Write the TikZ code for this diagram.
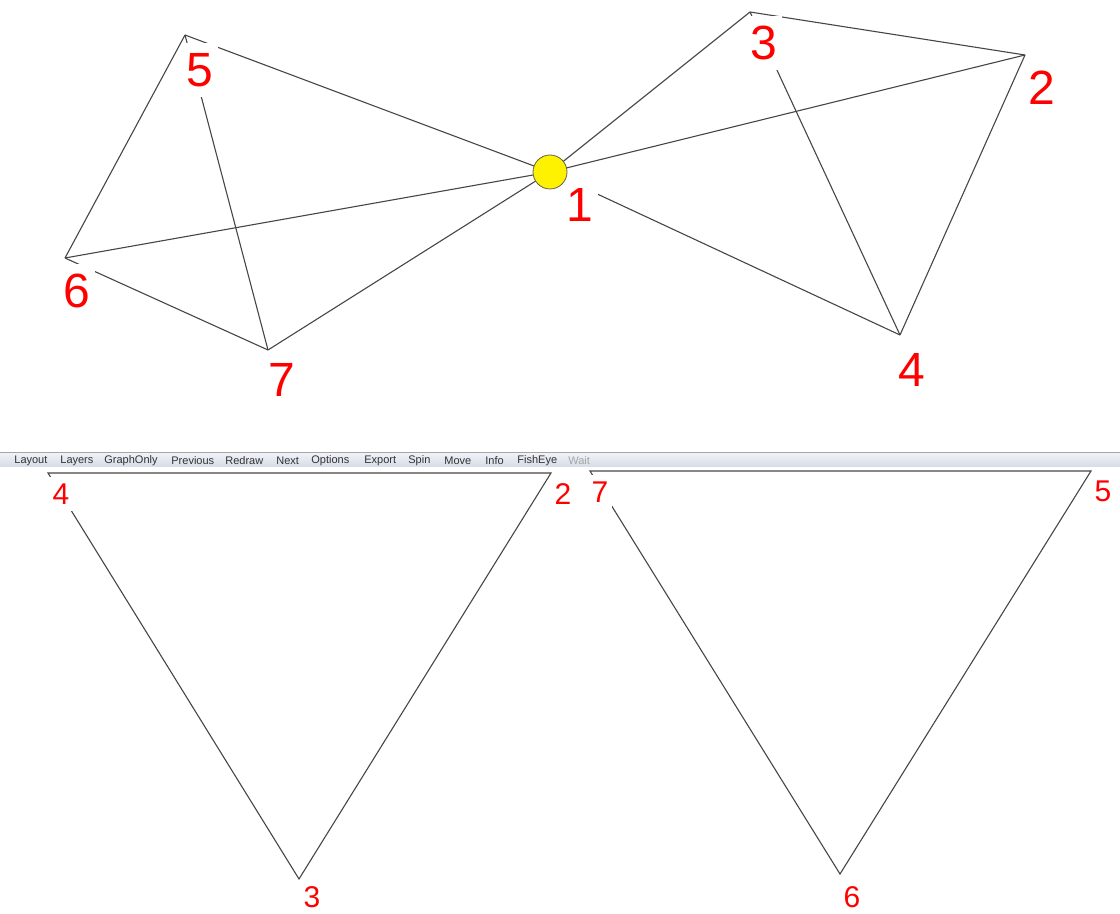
\documentclass[tikz,border=0pt]{standalone}
\usepackage{fontspec}
\setmainfont{Liberation Sans}
\definecolor{edgegray}{RGB}{70,70,70}
\definecolor{barlight}{RGB}{240,242,248}
\definecolor{bardark}{RGB}{214,219,231}
\definecolor{menutext}{RGB}{50,50,50}
\tikzset{
  edge/.style={draw=edgegray, line width=0.55pt},
  biglab/.style={fill=white, text=red, inner sep=0pt, minimum width=18pt, minimum height=27pt, font=\fontsize{24}{24}\selectfont},
  smalllab/.style={fill=white, text=red, inner sep=0pt, minimum width=12pt, minimum height=17pt, font=\fontsize{15}{15}\selectfont},
  menuitem/.style={anchor=west, inner sep=0pt, text=menutext, font=\fontsize{5.5}{6}\selectfont}
}
\begin{document}
\begin{tikzpicture}[x=0.5pt, y=-0.5pt]
	\useasboundingbox (0,0) rectangle (1120,914);
	% menu bar
	\shade[top color=barlight, bottom color=bardark] (0,453) rectangle (1120,467);
	\draw[gray!70, line width=0.5pt] (0,453) -- (1120,453);
	\foreach \x/\t in {14/Layout, 60/Layers, 104/GraphOnly, 171/Previous, 225/Redraw, 276/Next, 311/Options, 364/Export, 408/Spin, 444/Move, 485/Info, 517/FishEye}
		\node[menuitem] (m\t) at (\x,460.5) {\t};
	\node[menuitem, text=black!35] (mWait) at (568,460.5) {Wait};
	% upper graph
	\coordinate (v1) at (550,172);
	\coordinate (v2) at (1025,55);
	\coordinate (v3) at (750,12);
	\coordinate (v4) at (900,335);
	\coordinate (v5) at (185,35);
	\coordinate (v6) at (65,258);
	\coordinate (v7) at (268,350);
	\foreach \a/\b in {v1/v2, v1/v3, v1/v4, v1/v5, v1/v6, v1/v7, v3/v2, v2/v4, v3/v4, v5/v6, v5/v7, v6/v7}
		\draw[edge] (\a) -- (\b);
	\node[biglab] (l1) at (580,205) {1};
	\node[biglab] (l2) at (1042,88) {2};
	\node[biglab] (l3) at (764,43) {3};
	\node[biglab] (l4) at (912,370) {4};
	\node[biglab] (l5) at (200,70) {5};
	\node[biglab] (l6) at (77,291) {6};
	\node[biglab] (l7) at (282,380) {7};
	\node[circle, fill=yellow, draw=black!70!yellow, line width=0.4pt, minimum size=17pt, inner sep=0pt] (n1) at (v1) {};
	% lower left
	\coordinate (a4) at (48,473);
	\coordinate (a2) at (551,473);
	\coordinate (a3) at (299,879);
	\draw[edge] (a4) -- (a2) -- (a3) -- cycle;
	\node[smalllab] (k4) at (61,494) {4};
	\node[smalllab] (k2) at (563,494) {2};
	\node[smalllab] (k3) at (312,897) {3};
	% lower right
	\coordinate (b7) at (590,471);
	\coordinate (b5) at (1091,471);
	\coordinate (b6) at (840,874);
	\draw[edge] (b7) -- (b5) -- (b6) -- cycle;
	\node[smalllab] (k7) at (600,492) {7};
	\node[smalllab] (k5) at (1103,491) {5};
	\node[smalllab] (k6) at (852,897) {6};
\end{tikzpicture}
\end{document}
